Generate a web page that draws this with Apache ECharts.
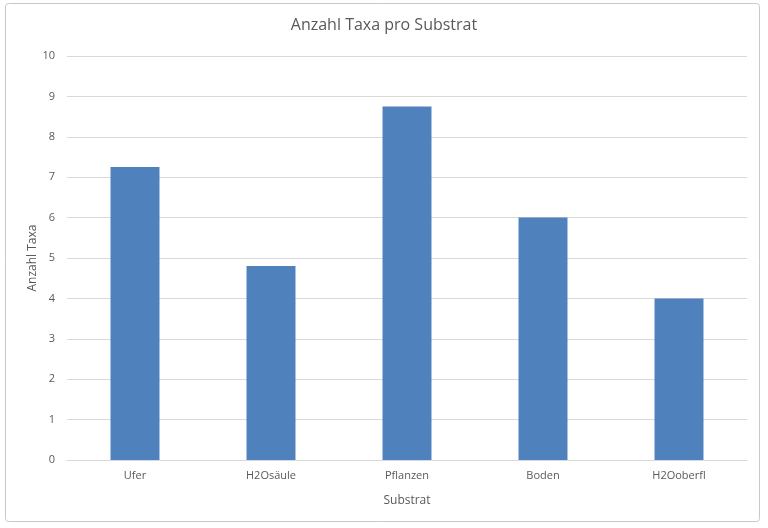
<!DOCTYPE html>
<html>
<head>
<meta charset="utf-8">
<script src="https://cdn.jsdelivr.net/npm/echarts@6/dist/echarts.min.js"></script>
<style>
html,body{margin:0;padding:0;background:#fff;}
#c{width:768px;height:528px;}
</style>
</head>
<body>
<div id="c"></div>
<script>
var categories = ['Ufer', 'H2Osäule', 'Pflanzen', 'Boden', 'H2Ooberfl'];
var values = [7.25, 4.8, 8.75, 6, 4];
var yTicks = [0, 10, 1];

var chart = echarts.init(document.getElementById('c'));
var font = 'Open Sans';
chart.setOption({
  animation: false,
  textStyle: {fontFamily: font},
  title: {
    text: 'Anzahl Taxa pro Substrat',
    left: 'center',
    top: 12,
    textStyle: {fontFamily: font, fontSize: 16, fontWeight: 'normal', color: '#595959'}
  },
  graphic: [{
    type: 'rect',
    shape: {x: 5.5, y: 3.5, width: 754, height: 518, r: 3},
    style: {fill: 'none', stroke: '#c8c8c8', lineWidth: 1},
    silent: true
  }],
  grid: {left: 67, right: 21, top: 56, bottom: 68},
  xAxis: {
    type: 'category',
    data: categories,
    name: 'Substrat',
    nameLocation: 'middle',
    nameGap: 35,
    nameMoveOverlap: false,
    nameTextStyle: {fontFamily: font, fontSize: 12, color: '#595959'},
    axisLine: {lineStyle: {color: '#d9d9d9'}},
    axisTick: {show: false},
    axisLabel: {fontFamily: font, fontSize: 11, color: '#595959', margin: 10}
  },
  yAxis: {
    type: 'value',
    min: yTicks[0],
    max: yTicks[1],
    interval: yTicks[2],
    name: 'Anzahl Taxa',
    nameLocation: 'middle',
    nameGap: 28,
    nameMoveOverlap: false,
    nameTextStyle: {fontFamily: font, fontSize: 12, color: '#595959'},
    axisLine: {show: false},
    axisTick: {show: false},
    axisLabel: {fontFamily: font, fontSize: 11, color: '#595959', margin: 12},
    splitLine: {lineStyle: {color: '#d9d9d9'}}
  },
  series: [{
    type: 'bar',
    data: values,
    barCategoryGap: '64%',
    itemStyle: {color: '#4F81BD'}
  }]
});
</script>
</body>
</html>
